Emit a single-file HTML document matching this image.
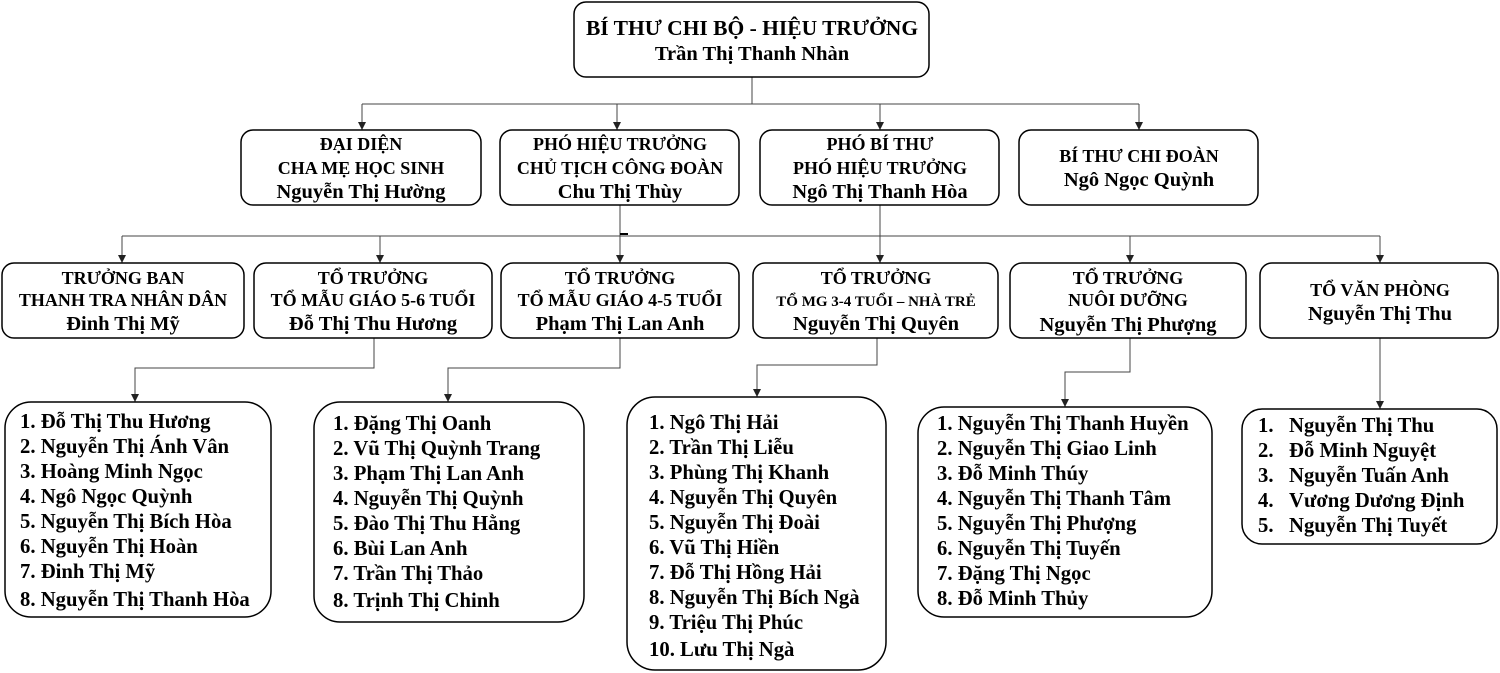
<!DOCTYPE html>
<html><head><meta charset="utf-8"><style>
html,body{margin:0;padding:0;background:#fff;}
svg{display:block;}
text{font-family:"Liberation Serif",serif;font-weight:bold;fill:#000;}
.h{font-size:18px;text-anchor:middle;}
.n{font-size:20.5px;text-anchor:middle;}
.l{font-size:20.7px;}
rect{fill:#fff;stroke:#000;stroke-width:1.5;}
.c{stroke:#444;stroke-width:1;fill:none;}
</style></head><body>
<svg width="1500" height="673" viewBox="0 0 1500 673" xmlns="http://www.w3.org/2000/svg">
<defs><marker id="a" markerWidth="8" markerHeight="8" refX="8" refY="4" orient="auto" markerUnits="userSpaceOnUse"><path d="M0,0 L8,4 L0,8 z" fill="#222"/></marker></defs>
<!-- connectors -->
<path class="c" d="M752,77 V104 M362,104 H1139"/>
<line class="c" x1="362" y1="104" x2="362" y2="130" marker-end="url(#a)"/>
<line class="c" x1="617" y1="104" x2="617" y2="130" marker-end="url(#a)"/>
<line class="c" x1="880" y1="104" x2="880" y2="130" marker-end="url(#a)"/>
<line class="c" x1="1139" y1="104" x2="1139" y2="130" marker-end="url(#a)"/>
<path class="c" d="M620,205 V236 M880,205 V236 M122,236 H1380"/>
<line class="c" x1="122" y1="236" x2="122" y2="263" marker-end="url(#a)"/>
<line class="c" x1="380" y1="236" x2="380" y2="263" marker-end="url(#a)"/>
<line class="c" x1="620" y1="236" x2="620" y2="263" marker-end="url(#a)"/>
<line class="c" x1="880" y1="236" x2="880" y2="263" marker-end="url(#a)"/>
<line class="c" x1="1130" y1="236" x2="1130" y2="263" marker-end="url(#a)"/>
<line class="c" x1="1380" y1="236" x2="1380" y2="263" marker-end="url(#a)"/>
<line x1="620" y1="234" x2="628" y2="234" stroke="#000" stroke-width="2"/>
<path class="c" d="M374,338 V368 H135 V402" marker-end="url(#a)"/>
<path class="c" d="M620,338 V368 H448 V402" marker-end="url(#a)"/>
<path class="c" d="M877,338 V365 H757 V397" marker-end="url(#a)"/>
<path class="c" d="M1130,338 V372 H1065 V407" marker-end="url(#a)"/>
<path class="c" d="M1380,338 V409" marker-end="url(#a)"/>
<!-- top -->
<rect x="574" y="2" width="355" height="75" rx="12"/>
<text class="n" x="752" y="35" style="font-size:21.5px">BÍ THƯ CHI BỘ - HIỆU TRƯỞNG</text>
<text class="n" x="752" y="60">Trần Thị Thanh Nhàn</text>
<!-- row 2 -->
<rect x="241" y="130" width="240" height="75" rx="12"/>
<text class="h" x="361" y="150">ĐẠI DIỆN</text>
<text class="h" x="361" y="174">CHA MẸ HỌC SINH</text>
<text class="n" x="361" y="198">Nguyễn Thị Hường</text>
<rect x="500" y="130" width="239" height="75" rx="12"/>
<text class="h" x="620" y="150">PHÓ HIỆU TRƯỞNG</text>
<text class="h" x="620" y="174">CHỦ TỊCH CÔNG ĐOÀN</text>
<text class="n" x="620" y="198">Chu Thị Thùy</text>
<rect x="760" y="130" width="239" height="75" rx="12"/>
<text class="h" x="880" y="150">PHÓ BÍ THƯ</text>
<text class="h" x="880" y="174">PHÓ HIỆU TRƯỞNG</text>
<text class="n" x="880" y="198">Ngô Thị Thanh Hòa</text>
<rect x="1019" y="130" width="239" height="75" rx="12"/>
<text class="h" x="1139" y="162">BÍ THƯ CHI ĐOÀN</text>
<text class="n" x="1139" y="186">Ngô Ngọc Quỳnh</text>
<!-- row 3 -->
<rect x="2" y="263" width="242" height="75" rx="12"/>
<text class="h" x="123" y="284">TRƯỞNG BAN</text>
<text class="h" x="123" y="306">THANH TRA NHÂN DÂN</text>
<text class="n" x="123" y="330">Đinh Thị Mỹ</text>
<rect x="254" y="263" width="238" height="75" rx="12"/>
<text class="h" x="373" y="284">TỔ TRƯỞNG</text>
<text class="h" x="373" y="306">TỔ MẪU GIÁO 5-6 TUỔI</text>
<text class="n" x="373" y="330">Đỗ Thị Thu Hương</text>
<rect x="501" y="263" width="238" height="75" rx="12"/>
<text class="h" x="620" y="284">TỔ TRƯỞNG</text>
<text class="h" x="620" y="306">TỔ MẪU GIÁO 4-5 TUỔI</text>
<text class="n" x="620" y="330">Phạm Thị Lan Anh</text>
<rect x="753" y="263" width="245" height="75" rx="12"/>
<text class="h" x="876" y="284">TỔ TRƯỞNG</text>
<text class="h" x="876" y="306" style="font-size:15px">TỔ MG 3-4 TUỔI – NHÀ TRẺ</text>
<text class="n" x="876" y="330">Nguyễn Thị Quyên</text>
<rect x="1010" y="263" width="236" height="75" rx="12"/>
<text class="h" x="1128" y="284">TỔ TRƯỞNG</text>
<text class="h" x="1128" y="306">NUÔI DƯỠNG</text>
<text class="n" x="1128" y="331">Nguyễn Thị Phượng</text>
<rect x="1260" y="263" width="238" height="75" rx="12"/>
<text class="h" x="1380" y="296">TỔ VĂN PHÒNG</text>
<text class="n" x="1380" y="320">Nguyễn Thị Thu</text>
<!-- lists -->
<rect x="5" y="402" width="266" height="215" rx="26"/>
<text class="l" x="20" y="428">1. Đỗ Thị Thu Hương</text>
<text class="l" x="20" y="453">2. Nguyễn Thị Ánh Vân</text>
<text class="l" x="20" y="478">3. Hoàng Minh Ngọc</text>
<text class="l" x="20" y="503">4. Ngô Ngọc Quỳnh</text>
<text class="l" x="20" y="528">5. Nguyễn Thị Bích Hòa</text>
<text class="l" x="20" y="553">6. Nguyễn Thị Hoàn</text>
<text class="l" x="20" y="578">7. Đinh Thị Mỹ</text>
<text class="l" x="20" y="606">8. Nguyễn Thị Thanh Hòa</text>
<rect x="314" y="402" width="270" height="220" rx="26"/>
<text class="l" x="333" y="430">1. Đặng Thị Oanh</text>
<text class="l" x="333" y="455">2. Vũ Thị Quỳnh Trang</text>
<text class="l" x="333" y="480">3. Phạm Thị Lan Anh</text>
<text class="l" x="333" y="505">4. Nguyễn Thị Quỳnh</text>
<text class="l" x="333" y="530">5. Đào Thị Thu Hằng</text>
<text class="l" x="333" y="555">6. Bùi Lan Anh</text>
<text class="l" x="333" y="580">7. Trần Thị Thảo</text>
<text class="l" x="333" y="607">8. Trịnh Thị Chinh</text>
<rect x="627" y="397" width="259" height="273" rx="28"/>
<text class="l" x="649" y="429">1. Ngô Thị Hải</text>
<text class="l" x="649" y="454">2. Trần Thị Liễu</text>
<text class="l" x="649" y="479">3. Phùng Thị Khanh</text>
<text class="l" x="649" y="504">4. Nguyễn Thị Quyên</text>
<text class="l" x="649" y="529">5. Nguyễn Thị Đoài</text>
<text class="l" x="649" y="554">6. Vũ Thị Hiền</text>
<text class="l" x="649" y="579">7. Đỗ Thị Hồng Hải</text>
<text class="l" x="649" y="604">8. Nguyễn Thị Bích Ngà</text>
<text class="l" x="649" y="629">9. Triệu Thị Phúc</text>
<text class="l" x="649" y="656">10. Lưu Thị Ngà</text>
<rect x="918" y="407" width="294" height="210" rx="26"/>
<text class="l" x="937" y="430">1. Nguyễn Thị Thanh Huyền</text>
<text class="l" x="937" y="455">2. Nguyễn Thị Giao Linh</text>
<text class="l" x="937" y="480">3. Đỗ Minh Thúy</text>
<text class="l" x="937" y="505">4. Nguyễn Thị Thanh Tâm</text>
<text class="l" x="937" y="530">5. Nguyễn Thị Phượng</text>
<text class="l" x="937" y="555">6. Nguyễn Thị Tuyến</text>
<text class="l" x="937" y="580">7. Đặng Thị Ngọc</text>
<text class="l" x="937" y="605">8. Đỗ Minh Thủy</text>
<rect x="1242" y="409" width="255" height="135" rx="20"/>
<text class="l" x="1258" y="432">1.</text><text class="l" x="1289" y="432">Nguyễn Thị Thu</text>
<text class="l" x="1258" y="457">2.</text><text class="l" x="1289" y="457">Đỗ Minh Nguyệt</text>
<text class="l" x="1258" y="482">3.</text><text class="l" x="1289" y="482">Nguyễn Tuấn Anh</text>
<text class="l" x="1258" y="507">4.</text><text class="l" x="1289" y="507">Vương Dương Định</text>
<text class="l" x="1258" y="532">5.</text><text class="l" x="1289" y="532">Nguyễn Thị Tuyết</text>
</svg>
</body></html>
